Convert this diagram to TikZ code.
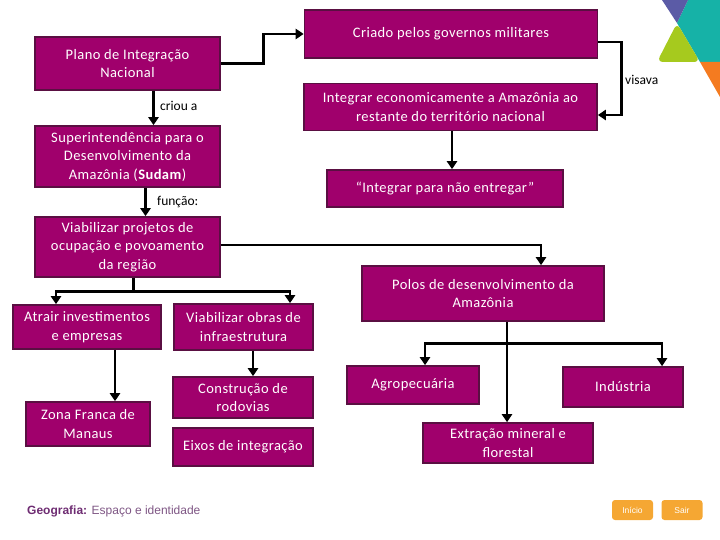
\documentclass[tikz,border=0pt]{standalone}
\usepackage{fontspec}
\setmainfont{Carlito}[LetterSpace=3]
\newfontfamily\footfont{Liberation Sans}
\newfontfamily\tagfont{Carlito}
\usetikzlibrary{arrows.meta,positioning,calc}
\usepackage{xcolor}
\definecolor{boxfill}{HTML}{A0006C}
\definecolor{boxline}{HTML}{5A0F42}
\definecolor{footdark}{HTML}{6E2C72}
\definecolor{footlight}{HTML}{7E5684}
\definecolor{btn}{HTML}{F5A733}
\definecolor{logopurple}{HTML}{5B5BA6}
\definecolor{logoteal}{HTML}{16B2A7}
\definecolor{logolime}{HTML}{A6CA1E}
\definecolor{logoorange}{HTML}{F47B20}
\tikzset{
  >={Triangle[width=10pt,length=8pt]},
  every node/.style={font=\fontsize{14.5}{18.5}\selectfont},
  box/.style={draw=boxline,line width=1.6pt,fill=boxfill,text=white,align=center,inner sep=2pt},
  arrow/.style={->,line width=2.8pt,draw=black},
  link/.style={line width=2.8pt,draw=black},
  tag/.style={font=\tagfont\fontsize{13.5}{15}\selectfont,text=black,inner sep=1pt},
  button/.style={fill=btn,rounded corners=3pt,minimum width=41pt,minimum height=20pt,text=white,inner sep=0pt,font=\footfont\fontsize{8.5}{9}\selectfont},
}

\begin{document}
\begin{tikzpicture}[x=1pt,y=-1pt]
\useasboundingbox (0,0) rectangle (720,540);

% logo
\fill[logoteal] (688,0) -- (720,0) -- (720,62) -- (700,62) -- (677,23) -- cycle;
\fill[logopurple] (662,0) -- (688,0) -- (677,23) -- cycle;
\fill[logolime,rounded corners=6pt] (677,23) -- (700,62) -- (657,62) -- cycle;
\fill[logoorange] (700,62) -- (720,62) -- (720,97) -- cycle;

% left column
\node[box,minimum width=185pt,minimum height=53pt] (plano) at (127.5,63.5) {Plano de Integração\\Nacional};
\node[box,minimum width=185pt,minimum height=61pt] (sudam) at (127.5,156.5) {Superintendência para o\\Desenvolvimento da\\Amazônia (\textbf{Sudam})};
\node[box,minimum width=185pt,minimum height=60pt] (projetos) at (127.5,247) {Viabilizar projetos de\\ocupação e povoamento\\da região};
\node[box,minimum width=148pt,minimum height=44pt] (atrair) at (87,327) {Atrair investimentos\\e empresas};
\node[box,minimum width=139pt,minimum height=46pt] (obras) at (243.5,327) {Viabilizar obras de\\infraestrutura};
\node[box,minimum width=124pt,minimum height=44pt] (zona) at (88,424) {Zona Franca de\\Manaus};
\node[box,minimum width=140pt,minimum height=41pt] (rodovias) at (243,397.5) {Construção de\\rodovias};
\node[box,minimum width=140pt,minimum height=38pt] (eixos) at (243,447) {Eixos de integração};

% right column
\node[box,minimum width=293pt,minimum height=48pt] (criado) at (451,34) {Criado pelos governos militares};
\node[box,minimum width=293pt,minimum height=47pt] (integrar) at (450.5,107) {Integrar economicamente a Amazônia ao\\restante do território nacional};
\node[box,minimum width=236pt,minimum height=37pt] (lema) at (445,188.5) {“Integrar para não entregar”};
\node[box,minimum width=242pt,minimum height=55pt] (polos) at (483,293.5) {Polos de desenvolvimento da\\Amazônia};
\node[box,minimum width=132pt,minimum height=38pt] (agro) at (413,385) {Agropecuária};
\node[box,minimum width=120pt,minimum height=40pt] (industria) at (623,387) {Indústria};
\node[box,minimum width=170pt,minimum height=40pt] (extracao) at (508,443) {Extração mineral e\\florestal};

% connectors
\draw[arrow] (plano.east) -- ++(43,0) |- (criado.west);
\draw[arrow] ([yshift=-8pt]criado.east) -- ++(23,0) |- ([yshift=-8pt]integrar.east);
\node[tag,anchor=west] (visava) at (624,80) {visava};
\draw[arrow] ([xshift=1.5pt]integrar.south) -- ([xshift=1.5pt]integrar.south |- lema.north);

\draw[arrow] ([xshift=26pt]plano.south) -- ([xshift=26pt]plano.south |- sudam.north);
\node[tag,anchor=west] (criou) at (159,106) {criou a};
\draw[arrow] ([xshift=18pt]sudam.south) -- ([xshift=18pt]sudam.south |- projetos.north);
\node[tag,anchor=west] (funcao) at (156,202) {função:};

\draw[arrow] ([yshift=2pt]projetos.east) -| ([xshift=58pt]polos.north);
\draw[link] ([xshift=6pt]projetos.south) -- ++(0,14) coordinate (fork1);
\draw[arrow] (fork1) -| ([xshift=-31pt]atrair.north);
\draw[arrow] (fork1) -| ([xshift=46.5pt]obras.north);
\draw[arrow] ([xshift=28pt]atrair.south) -- ([xshift=28pt]atrair.south |- zona.north);
\draw[arrow] ([xshift=9.5pt]obras.south) -- ([xshift=9.5pt]obras.south |- rodovias.north);

\draw[link] ([xshift=24pt]polos.south) -- ++(0,22) coordinate (fork2);
\draw[arrow] (fork2) -| ([xshift=12pt]agro.north);
\draw[arrow] (fork2) -| ([xshift=39pt]industria.north);
\draw[arrow] (fork2) -- (fork2 |- extracao.north);

% footer
\node[anchor=west,inner sep=0pt,font=\footfont\fontsize{12}{14}\selectfont] (rodape) at (27,511) {\textcolor{footdark}{\textbf{Geografia:}} \textcolor{footlight}{Espaço e identidade}};
\node[button] (inicio) at (632.5,510) {Início};
\node[button] (sair) at (682,510) {Sair};
\end{tikzpicture}
\end{document}
